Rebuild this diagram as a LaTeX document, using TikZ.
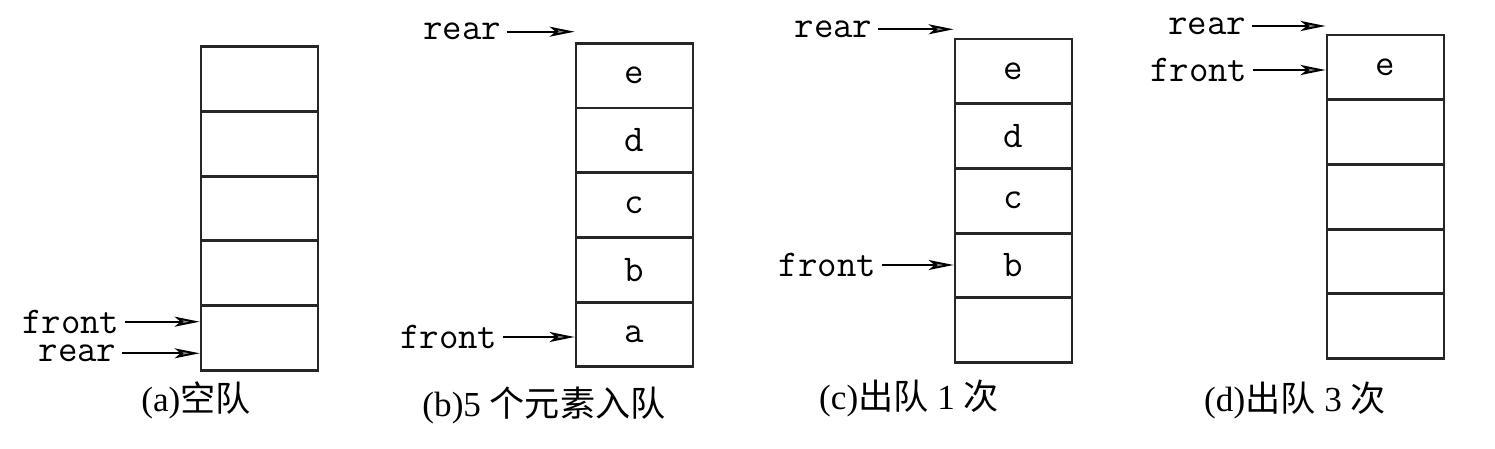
\documentclass[tikz,border=0pt]{standalone}
\usepackage{fontspec}
\setmainfont{Liberation Serif}
\newfontfamily\cjk{Noto Sans CJK SC}
\usetikzlibrary{arrows.meta,positioning,calc}

\tikzset{
  cell/.style={draw=black!85, line width=1.6pt, minimum width=2.34cm, minimum height=1.294cm,
    inner sep=0pt, font=\ttfamily\fontsize{21.5}{21.5}\selectfont},
  lbl/.style={anchor=east, inner xsep=3pt, inner ysep=0pt, font=\ttfamily\fontsize{21.5}{21.5}\selectfont},
  ptr/.style={line width=1.1pt, -{Stealth[length=0.5cm,width=0.2cm,inset=0.12cm,fill=black!45]}},
  captext/.style={font=\fontsize{20}{20}\selectfont}
}

\begin{document}
\begin{tikzpicture}[x=0.02cm,y=-0.02cm]
\useasboundingbox (0,0) rectangle (1495,449);

% (a) empty queue
\foreach \i in {1,2,3,4,5}
   \node[cell] (a\i) at (259.5,{46.7+\i*64.7-32.35}) {};
\node[lbl] (frontA) at (125,321.7) {front};
\node[lbl] (rearA) at (122,353.3) {rear};
\draw[ptr] (frontA) -- (frontA -| a5.west);
\draw[ptr] (rearA) -- (rearA -| a5.west);
\node[captext] (capA) at (196,400) {(a){\cjk 空队}};

% (b) five elements in
\foreach \i/\t in {1/e,2/d,3/c,4/b,5/a}
   \node[cell] (b\i) at (634.5,{43.3+\i*64.7-32.35}) {\t};
\node[lbl] (rearB) at (506.7,31.7) {rear};
\node[lbl] (frontB) at (503,337) {front};
\draw[ptr] (rearB) -- (rearB -| b1.west);
\draw[ptr] (frontB) -- (frontB -| b5.west);
\node[captext] (capB) at (544,405) {(b)5 {\cjk 个元素入队}};

% (c) one out
\foreach \i/\t in {1/e,2/d,3/c,4/b,5/}
   \node[cell] (c\i) at (1013.5,{39+\i*64.7-32.35}) {\t};
\node[lbl] (rearC) at (878,29.3) {rear};
\node[lbl] (frontC) at (881.7,265) {front};
\draw[ptr] (rearC) -- (rearC -| c1.west);
\draw[ptr] (frontC) -- (frontC -| c4.west);
\node[captext] (capC) at (909,398) {(c){\cjk 出队} 1 {\cjk 次}};

% (d) three out
\foreach \i/\t in {1/e,2/,3/,4/,5/}
   \node[cell] (d\i) at (1385.5,{35+\i*64.7-32.35}) {\t};
\node[lbl] (rearD) at (1251.7,26) {rear};
\node[lbl] (frontD) at (1253,70) {front};
\draw[ptr] (rearD) -- (rearD -| d1.west);
\draw[ptr] (frontD) -- (frontD -| d1.west);
\node[captext] (capD) at (1295,400) {(d){\cjk 出队} 3 {\cjk 次}};
\end{tikzpicture}
\end{document}
